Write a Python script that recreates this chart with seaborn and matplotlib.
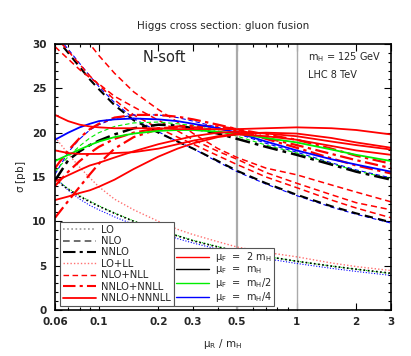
import numpy as np
import pandas as pd
import matplotlib
matplotlib.use("Agg")
import matplotlib.pyplot as plt
from matplotlib.lines import Line2D
from matplotlib.ticker import FixedLocator, NullFormatter, MultipleLocator
import seaborn as sns

# ---------------- data ----------------
mu_r = [0.06, 0.07, 0.08, 0.09, 0.1, 0.12, 0.15, 0.2, 0.25, 0.3, 0.4, 0.5, 0.7, 1.0, 1.5, 2.0, 3.0]

lo_black = [14.7, 13.6, 12.8, 12.2, 11.7, 10.9, 10.0, 9.0, 8.35, 7.8, 7.1, 6.65, 6.05, 5.5, 4.95, 4.6, 4.15]
lo_green = [14.8, 13.7, 12.9, 12.3, 11.75, 10.95, 10.05, 9.05, 8.4, 7.85, 7.15, 6.65, 6.05, 5.5, 4.95, 4.6, 4.1]
lo_blue = [15.0, 13.5, 12.5, 11.8, 11.3, 10.5, 9.65, 8.7, 8.05, 7.55, 6.85, 6.4, 5.8, 5.25, 4.7, 4.35, 3.9]
lo_ll_red = [19.5, 17.6, 16.1, 14.9, 13.9, 12.5, 11.3, 10.0, 9.1, 8.5, 7.7, 7.1, 6.5, 6.0, 5.3, 4.9, 4.45]

nlo_black = [30.8, 29.0, 27.4, 26.0, 24.9, 23.1, 21.4, 20.0, 19.0, 18.2, 16.8, 15.7, 14.3, 13.0, 11.7, 10.9, 9.9]
nlo_blue = [31.2, 29.4, 27.8, 26.4, 25.2, 23.4, 21.6, 20.1, 19.0, 18.2, 16.7, 15.6, 14.2, 12.9, 11.6, 10.8, 9.8]
nlo_nll_a = [35.5, 33.4, 31.6, 30.0, 28.7, 26.7, 24.6, 22.6, 21.2, 19.9, 18.2, 17.2, 16.0, 15.25, 14.1, 13.3, 12.2]
nlo_nll_b = [29.7, 28.3, 27.1, 26.2, 25.5, 24.1, 22.9, 21.4, 20.2, 19.2, 17.9, 17.0, 15.5, 14.3, 13.0, 12.1, 11.3]
nlo_nll_c = [30.9, 29.2, 27.7, 26.4, 25.4, 23.7, 22.0, 20.5, 19.5, 18.7, 17.4, 16.4, 15.0, 13.8, 12.4, 11.5, 10.4]

nnlo_black = [14.6, 16.9, 17.9, 18.6, 19.1, 19.8, 20.5, 20.9, 20.8, 20.5, 19.9, 19.3, 18.4, 17.5, 16.4, 15.6, 14.7]
nnlo_blue = [15.3, 17.8, 19.3, 20.3, 20.9, 21.6, 22.0, 22.0, 21.7, 21.3, 20.6, 19.9, 18.8, 17.8, 16.6, 15.8, 14.9]
nnlo_green = [15.6, 17.3, 18.5, 19.4, 20.0, 20.7, 21.1, 21.2, 21.0, 20.8, 20.2, 19.6, 18.6, 17.7, 16.5, 15.7, 14.8]

nnll_d1 = [10.4, 12.3, 13.9, 15.3, 16.5, 18.2, 19.5, 20.4, 20.7, 20.8, 20.7, 20.4, 19.8, 19.2, 18.2, 17.4, 16.5]
nnll_d2 = [16.0, 18.0, 19.4, 20.4, 21.0, 21.7, 22.0, 22.0, 21.8, 21.5, 20.9, 20.4, 19.3, 18.3, 17.1, 16.3, 15.4]
nnll_d3 = [14.0, 15.6, 16.8, 17.7, 18.4, 19.3, 20.0, 20.5, 20.6, 20.6, 20.4, 20.2, 19.4, 18.6, 17.6, 16.9, 16.0]

n3ll_r1 = [22.0, 21.3, 20.9, 20.7, 20.6, 20.5, 20.5, 20.5, 20.4, 20.4, 20.4, 20.4, 20.5, 20.6, 20.5, 20.3, 19.8]
n3ll_r2 = [18.0, 17.7, 17.6, 17.6, 17.6, 17.7, 17.8, 18.2, 18.7, 19.1, 19.6, 19.9, 20.0, 19.9, 19.4, 18.9, 18.3]
n3ll_r3 = [14.5, 15.2, 15.8, 16.3, 16.6, 17.2, 17.9, 18.7, 19.2, 19.6, 20.0, 20.1, 19.9, 19.6, 19.0, 18.6, 18.1]
n3ll_r4 = [12.4, 12.8, 13.2, 13.5, 13.9, 14.7, 15.9, 17.3, 18.2, 18.8, 19.5, 19.8, 19.6, 19.2, 18.5, 18.0, 17.5]
n3ll_blue = [19.2, 20.0, 20.6, 21.0, 21.3, 21.5, 21.6, 21.5, 21.3, 21.0, 20.5, 20.0, 19.0, 18.0, 17.0, 16.4, 15.6]
n3ll_green = [16.8, 17.5, 18.1, 18.6, 19.0, 19.5, 19.9, 20.2, 20.3, 20.3, 20.1, 19.9, 19.4, 18.9, 18.1, 17.5, 16.8]

x_ticks = [0.06, 0.1, 0.2, 0.3, 0.5, 1, 2, 3]
x_tick_labels = ["0.06", "0.1", "0.2", "0.3", "0.5", "1", "2", "3"]
y_ticks = [0, 5, 10, 15, 20, 25, 30]

order_labels = ["LO", "NLO", "NNLO", "LO+LL", "NLO+NLL", "NNLO+NNLL", "NNLO+NNNLL"]
muf_labels = [r"$\mu_F$  =  2 m$_H$", r"$\mu_F$  =  m$_H$", r"$\mu_F$  =  m$_H$/2", r"$\mu_F$  =  m$_H$/4"]

# ---------------- style ----------------
RED = "#ff0000"
LRED = "#ff7070"
GREEN = "#00ee00"
BLUE = "#0000ff"
BLACK = "#000000"
DOT = (0, (1, 1.5))
DASH = (0, (4, 2.5))
DASHDOT = (0, (6, 2, 1.5, 2))

sns.set_theme(style="white")
plt.rcParams["font.family"] = ["DejaVu Sans"]
plt.rcParams["mathtext.default"] = "regular"

fig = plt.figure(figsize=(4.11, 3.56), dpi=100)
ax = fig.add_axes([55 / 411, 1 - 310 / 356, 336 / 411, 266 / 356])

def draw(y, color, ls, lw, z=2):
    sns.lineplot(x=mu_r, y=y, ax=ax, color=color, linestyle=ls, lw=lw,
                 sort=False, estimator=None, zorder=z)

# vertical guide lines
ax.axvline(0.5, color="#aaaaaa", lw=1.6, zorder=1)
ax.axvline(1.0, color="#aaaaaa", lw=1.0, zorder=1)

# LO
draw(lo_blue, BLUE, DOT, 0.8)
draw(lo_green, GREEN, DOT, 0.8)
draw(lo_black, BLACK, DOT, 1.2)
draw(lo_ll_red, LRED, DOT, 1.0)
# NLO
draw(nlo_blue, BLUE, DASH, 0.8)
draw(nlo_black, BLACK, DASH, 1.5)
draw(nlo_nll_a, RED, DASH, 1.1)
draw(nlo_nll_b, RED, DASH, 1.1)
draw(nlo_nll_c, RED, DASH, 1.1)
# NNLO
draw(nnlo_blue, BLUE, DASH, 0.8)
draw(nnlo_green, GREEN, DASH, 0.8)
draw(nnlo_black, BLACK, DASHDOT, 1.8)
# NNLO+NNLL
draw(nnll_d1, RED, DASHDOT, 1.6)
draw(nnll_d2, RED, DASHDOT, 1.6)
draw(nnll_d3, RED, DASHDOT, 1.6)
# NNLO+NNNLL
draw(n3ll_blue, BLUE, "-", 1.3)
draw(n3ll_green, GREEN, "-", 1.3)
draw(n3ll_r1, RED, "-", 1.3)
draw(n3ll_r2, RED, "-", 1.3)
draw(n3ll_r3, RED, "-", 1.3)
draw(n3ll_r4, RED, "-", 1.3)

# axes
ax.set_xscale("log")
ax.set_xlim(0.06, 3)
ax.set_ylim(0, 30)
ax.xaxis.set_major_locator(FixedLocator(x_ticks))
ax.set_xticklabels(x_tick_labels)
minors = [0.07, 0.08, 0.09, 0.4, 0.6, 0.7, 0.8, 0.9]
ax.xaxis.set_minor_locator(FixedLocator(minors))
ax.xaxis.set_minor_formatter(NullFormatter())
ax.yaxis.set_major_locator(FixedLocator(y_ticks))
ax.yaxis.set_minor_locator(MultipleLocator(1))
ax.tick_params(which="both", direction="in", top=True, right=True, bottom=True, left=True,
               labelsize=7.5, color="black", width=0.8)
ax.tick_params(axis="x", which="major", pad=5)
ax.tick_params(axis="y", which="major", pad=6)
ax.tick_params(which="major", length=5)
ax.tick_params(which="minor", length=2.5)
for lab in ax.get_xticklabels() + ax.get_yticklabels():
    lab.set_fontweight("bold")
for s in ax.spines.values():
    s.set_color("black")
    s.set_linewidth(1.2)

ax.set_xlabel(r"$\mu_R$ / m$_H$", fontsize=7.5, labelpad=7)
ax.set_ylabel(r"$\sigma$ [pb]", fontsize=7.5, labelpad=3)
ax.set_title("Higgs cross section: gluon fusion", fontsize=7.5, pad=11)

ax.text(0.325, 0.95, "N-soft", transform=ax.transAxes, fontsize=10.5, ha="center", va="center")
ax.text(0.753, 0.952, r"m$_H$ = 125 GeV", transform=ax.transAxes, fontsize=7, ha="left", va="center")
ax.text(0.753, 0.885, "LHC 8 TeV", transform=ax.transAxes, fontsize=7, ha="left", va="center")

# legends
h1 = [Line2D([], [], color="#999999", ls=DOT, lw=1.2),
      Line2D([], [], color="#555555", ls=DASH, lw=1.2),
      Line2D([], [], color=BLACK, ls=DASHDOT, lw=1.5),
      Line2D([], [], color=LRED, ls=DOT, lw=1.0),
      Line2D([], [], color=RED, ls=DASH, lw=1.0),
      Line2D([], [], color=RED, ls=DASHDOT, lw=1.5),
      Line2D([], [], color=RED, ls="-", lw=1.3)]
leg1 = ax.legend(h1, order_labels, loc="lower left", bbox_to_anchor=(0.015, 0.015),
                 borderaxespad=0, fontsize=7.2, handlelength=3.3, handletextpad=0.5,
                 labelspacing=0.14, borderpad=0.3, fancybox=False, framealpha=1,
                 edgecolor="#555555")
leg1.get_frame().set_linewidth(0.8)
leg1.set_zorder(5)
ax.add_artist(leg1)

h2 = [Line2D([], [], color=c, ls="-", lw=1.0) for c in [RED, BLACK, GREEN, BLUE]]
leg2 = ax.legend(h2, muf_labels, loc="lower left", bbox_to_anchor=(0.354, 0.015),
                 borderaxespad=0, fontsize=7.0, handlelength=3.4, handletextpad=0.6,
                 labelspacing=0.0, borderpad=0.2, fancybox=False, framealpha=1,
                 edgecolor="#555555")
leg2.get_frame().set_linewidth(0.8)
leg2.set_zorder(5)

fig.savefig("out.png", dpi=100)
